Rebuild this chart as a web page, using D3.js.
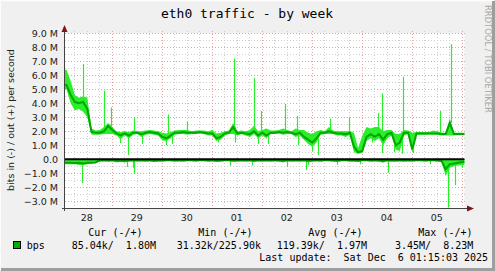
<!DOCTYPE html>
<html>
<head>
<meta charset="utf-8">
<script src="https://cdn.jsdelivr.net/npm/d3@7"></script>
<style>
  html, body { margin: 0; padding: 0; background: #f0f0f0; }
  svg { display: block; }
</style>
</head>
<body>
<div id="chart"></div>
<script>
// munin-style weekly traffic graph, values in Mbit/s
const dayLabels = ["28", "29", "30", "01", "02", "03", "04", "05"];
const yTicks = [-3, -2, -1, 0, 1, 2, 3, 4, 5, 6, 7, 8, 9];

// 2-hour buckets, starting Nov 28 01:15 UTC
const outAvg = [5.3,4.6,4.1,4.0,4.1,3.6,1.95,1.9,1.9,2.0,2.4,2.1,1.85,1.7,1.85,1.7,1.9,1.9,1.8,1.9,
  1.95,1.9,1.85,1.6,1.5,1.7,1.9,1.9,1.95,1.9,1.9,1.9,1.95,1.9,1.85,1.85,1.5,1.6,1.85,1.9,
  2.3,1.85,1.9,1.85,1.8,2.0,1.7,1.9,1.7,1.9,1.9,1.95,1.9,1.95,1.9,1.8,1.9,1.6,1.4,1.2,
  1.5,1.9,1.9,2.0,1.9,1.85,1.85,1.8,1.9,0.9,0.5,0.6,1.6,1.8,1.6,1.8,1.4,1.8,1.9,1.0,
  1.2,1.9,1.9,0.7,1.85,1.85,1.85,1.85,1.85,1.85,1.8,1.8,2.6,1.8,1.8,1.8];
const outHi = [6.4,5.6,4.6,4.4,4.5,4.4,2.2,2.05,2.1,2.3,2.6,2.3,2.0,1.95,2.0,1.95,2.05,2.0,2.0,2.05,
  2.1,2.05,2.0,1.9,1.85,1.95,2.05,2.1,2.1,2.1,2.0,2.05,2.05,2.05,2.0,2.1,1.85,1.9,2.0,2.05,
  2.6,2.0,2.05,2.0,2.1,2.4,2.0,2.1,2.2,2.05,2.05,2.1,2.2,2.1,2.0,2.2,2.1,2.1,1.9,1.8,
  2.0,2.1,2.0,2.3,2.05,2.0,2.0,2.0,2.0,1.9,0.8,1.7,2.3,2.2,2.3,2.3,2.0,2.1,2.1,1.8,
  1.8,2.1,2.05,1.9,1.95,1.95,1.95,1.95,2.05,2.0,1.9,1.9,2.9,1.9,1.9,1.9];
const outLo = [5.0,4.0,3.5,3.6,3.4,3.0,1.75,1.75,1.75,1.8,1.8,1.8,1.7,1.45,1.7,1.5,1.75,1.8,1.6,1.75,
  1.8,1.75,1.7,1.35,1.3,1.5,1.75,1.8,1.8,1.75,1.8,1.8,1.85,1.8,1.7,1.7,1.3,1.4,1.7,1.8,
  1.8,1.7,1.8,1.7,1.6,1.8,1.5,1.7,1.5,1.8,1.8,1.85,1.75,1.8,1.8,1.6,1.7,1.4,1.1,0.9,
  1.2,1.75,1.8,1.8,1.8,1.7,1.7,1.6,1.75,0.5,0.4,0.45,1.3,1.5,1.3,1.5,1.0,1.5,1.7,0.7,
  0.6,1.7,1.8,0.45,1.75,1.75,1.75,1.78,1.78,1.75,1.7,1.7,1.7,1.7,1.72,1.72];
const inAvg = [0.25,0.25,0.27,0.25,0.3,0.25,0.25,0.22,0.08,0.07,0.08,0.06,0.1,0.08,0.12,0.08,0.07,0.08,0.06,0.08,
  0.07,0.1,0.08,0.08,0.07,0.06,0.08,0.07,0.08,0.07,0.07,0.08,0.06,0.07,0.08,0.07,0.1,0.08,0.07,0.07,
  0.09,0.08,0.07,0.08,0.07,0.1,0.07,0.08,0.07,0.08,0.07,0.08,0.1,0.07,0.08,0.07,0.08,0.07,0.1,0.08,
  0.07,0.08,0.07,0.07,0.08,0.1,0.07,0.07,0.08,0.08,0.1,0.07,0.07,0.08,0.07,0.08,0.12,0.07,0.08,0.08,
  0.07,0.08,0.07,0.08,0.07,0.07,0.08,0.07,0.07,0.08,0.1,0.7,0.35,0.3,0.25,0.2];
const inPeak = [0.35,0.35,0.35,0.4,0.4,0.35,0.3,0.3,0.15,0.12,0.15,0.12,0.22,0.18,0.22,0.15,0.12,0.15,0.12,0.15,
  0.12,0.2,0.15,0.15,0.12,0.12,0.15,0.12,0.15,0.12,0.12,0.15,0.12,0.12,0.15,0.12,0.2,0.15,0.12,0.12,
  0.2,0.15,0.12,0.15,0.12,0.2,0.12,0.15,0.12,0.15,0.12,0.15,0.22,0.12,0.15,0.12,0.15,0.12,0.22,0.15,
  0.12,0.15,0.12,0.12,0.15,0.2,0.12,0.12,0.15,0.15,0.2,0.12,0.12,0.15,0.12,0.15,0.25,0.12,0.15,0.15,
  0.12,0.15,0.12,0.15,0.12,0.12,0.15,0.12,0.12,0.15,0.2,1.2,0.6,0.5,0.45,0.4];

// short spikes (hours from start, Mbit/s)
const outSpikeHour = [8.9,19.0,22.2,33.4,49.7,58.8,81.4,91.0,94.2,105.7,111.5,127.5,136.5,150.4,152.3,162.7,180.3,185.7];
const outSpikeVal  = [6.8,4.9,3.7,3.0,3.2,2.7,7.2,5.8,3.45,3.95,3.1,2.9,3.0,3.3,4.7,5.9,3.45,8.23];
const outDipHour = [26.7,30.4,37.2,48.8,51.6,73.7,81.8,92.8,97.5,111.9,119.0,121.9,140.6,147.8,152.6,158.4,162.2,167.5];
const outDipVal  = [1.16,0.3,1.1,1.0,1.1,1.2,1.2,1.1,1.1,1.0,0.6,0.3,0.45,1.2,0.45,0.5,0.4,0.45];
const inSpikeHour = [8.4,29.9,32.9,33.4,79.5,90.1,106.7,115.8,116.9,130.8,141.9,155.3,175.5,183.9,187.5,190.8];
const inSpikeVal  = [1.7,0.55,0.6,1.05,0.45,0.45,0.55,0.77,0.4,0.4,0.35,0.95,0.35,3.45,1.85,0.6];

const W = 495, H = 271;
const start = new Date(Date.UTC(2025, 10, 28, 1, 15));
const end = new Date(Date.UTC(2025, 11, 6, 1, 15));
const HOUR = 3600e3;

const svg = d3.select("#chart").append("svg")
  .attr("width", W).attr("height", H)
  .style("font-family", "'DejaVu Sans', sans-serif");

// frame
svg.append("rect").attr("width", W).attr("height", H).attr("fill", "#f0f0f0");
svg.append("path").attr("d", `M0,${H-1}V0.5H${W-1}`).attr("stroke", "#fcfcfc").attr("stroke-width", 2).attr("fill", "none");
svg.append("path").attr("d", `M1,${H-1.5}H${W-1.5}V1`).attr("stroke", "#9e9e9e").attr("stroke-width", 3).attr("fill", "none");

const x = d3.scaleUtc().domain([start, end]).range([64.4, 464.4]);
const y = d3.scaleLinear().domain([-3.5, 9]).range([208.3, 33.3]);

svg.append("rect").attr("x", 64.4).attr("y", 33.3).attr("width", 400).attr("height", 175).attr("fill", "#fff");

// grid
const g = svg.append("g").attr("shape-rendering", "crispEdges");
const halfTicks = d3.range(-3.5, 9.01, 0.5);
g.selectAll(".hg").data(halfTicks).enter().append("line")
  .attr("x1", 65).attr("x2", 466)
  .attr("y1", d => Math.round(y(d)) + 0.5).attr("y2", d => Math.round(y(d)) + 0.5)
  .attr("stroke", d => Number.isInteger(d) ? "#e8a0a0" : "#cfcfcf")
  .attr("stroke-dasharray", "1,2");
const sixH = d3.utcHour.every(6).range(start, end);
g.selectAll(".vg").data(sixH).enter().append("line")
  .attr("x1", d => Math.round(x(d)) + 0.5).attr("x2", d => Math.round(x(d)) + 0.5)
  .attr("y1", 31).attr("y2", 208)
  .attr("stroke", d => d.getUTCHours() === 0 ? "#e8a0a0" : "#cfcfcf")
  .attr("stroke-dasharray", "1,2");

// data helpers: bucket centres, padded to both edges
const tOf = i => new Date(start.getTime() + (i * 2 + 1) * HOUR);
const pad = r => [{ ...r[0], t: start }, ...r, { ...r[r.length - 1], t: end }];
const rows = arr => pad(arr.map((v, i) => ({ t: tOf(i), v })));
const band = (lo, hi) => pad(lo.map((v, i) => ({ t: tOf(i), lo: v, hi: hi[i] })));
const at = h => new Date(start.getTime() + h * HOUR);
const bucket = h => Math.min(outAvg.length - 1, Math.round((h - 1) / 2));

const light = "#2aee2a", dark = "#00a800";
const plot = svg.append("g");

// out envelope
plot.append("path").datum(band(outLo, outHi))
  .attr("fill", light)
  .attr("d", d3.area().x(d => x(d.t)).y0(d => y(d.lo)).y1(d => y(d.hi)));
// in envelope
plot.append("path").datum(band(inAvg.map(() => 0), inPeak))
  .attr("fill", light)
  .attr("d", d3.area().x(d => x(d.t)).y0(y(0)).y1(d => y(-d.hi)));

// spikes
const spikes = (hours, vals, base, sign) => plot.append("g").selectAll("line")
  .data(hours.map((h, i) => ({ h, v: vals[i] }))).enter().append("line")
  .attr("x1", d => Math.round(x(at(d.h))) + 0.5).attr("x2", d => Math.round(x(at(d.h))) + 0.5)
  .attr("y1", d => y(sign * base[bucket(d.h)])).attr("y2", d => y(sign * d.v))
  .attr("stroke", light).attr("stroke-width", 1.2);
spikes(outSpikeHour, outSpikeVal, outAvg, 1);
spikes(outDipHour, outDipVal, outAvg, 1);
spikes(inSpikeHour, inSpikeVal, inAvg, -1);

// averages
plot.append("path").datum(rows(outAvg))
  .attr("fill", "none").attr("stroke", dark).attr("stroke-width", 2)
  .attr("d", d3.line().x(d => x(d.t)).y(d => y(d.v)));
plot.append("path").datum(rows(inAvg))
  .attr("fill", "none").attr("stroke", dark).attr("stroke-width", 2)
  .attr("d", d3.line().x(d => x(d.t)).y(d => y(-d.v)));

// zero rule
svg.append("line").attr("x1", 64.4).attr("x2", 464.4).attr("y1", y(0)).attr("y2", y(0))
  .attr("stroke", "#000").attr("stroke-width", 2);

// axes
const ax = svg.append("g").attr("shape-rendering", "crispEdges").attr("stroke", "#444");
ax.append("line").attr("x1", 64.5).attr("x2", 64.5).attr("y1", 30).attr("y2", 211);
ax.append("line").attr("x1", 62).attr("x2", 468).attr("y1", 208.5).attr("y2", 208.5);
svg.append("path").attr("d", "M61.5,32L64.5,25L67.5,32Z").attr("fill", "#7f1414");
svg.append("path").attr("d", "M467,205.5L474,208.5L467,211.5Z").attr("fill", "#7f1414");

// y labels
svg.append("g").selectAll("text").data(yTicks).enter().append("text")
  .attr("x", 58).attr("y", d => y(d) + 3.5)
  .attr("text-anchor", "end").attr("font-size", 9.5).attr("fill", "#222")
  .text(d => d === 0 ? "0.0" : d3.format(".1f")(d) + " M");

// x labels at noon of each day
const noons = d3.utcHour.range(start, end).filter(d => d.getUTCHours() === 12);
svg.append("g").selectAll("text").data(noons).enter().append("text")
  .attr("x", d => x(d)).attr("y", 220.5)
  .attr("text-anchor", "middle").attr("font-size", 9.5).attr("fill", "#222")
  .text((d, i) => dayLabels[i]);

// axis title
svg.append("text").attr("transform", "translate(14,120) rotate(-90)")
  .attr("text-anchor", "middle").attr("font-size", 9.5).attr("fill", "#222")
  .text("bits in (-) / out (+) per second");

// watermark
svg.append("text").attr("transform", "translate(485,5) rotate(90)")
  .attr("font-size", 8.4).attr("fill", "#a8a8a8")
  .text("RRDTOOL / TOBI OETIKER");

// title
svg.append("text").attr("x", 247).attr("y", 18)
  .attr("text-anchor", "middle").attr("font-family", "'DejaVu Sans Mono', monospace")
  .attr("font-size", 13).attr("fill", "#000")
  .text("eth0 traffic - by week");

// legend
const mono = svg.append("g").attr("font-family", "'DejaVu Sans Mono', monospace")
  .attr("font-size", 10).attr("fill", "#000");
const legend = [
  [88.3, 236, "Cur (-/+)"], [198.3, 236, "Min (-/+)"], [308.3, 236, "Avg (-/+)"], [418.3, 236, "Max (-/+)"],
  [26.7, 248.5, "bps"], [71.7, 248.5, "85.04k/  1.80M"], [176.7, 248.5, "31.32k/225.90k"],
  [276.7, 248.5, "119.39k/  1.97M"], [395, 248.5, "3.45M/  8.23M"],
  [259.3, 261, "Last update:  Sat Dec  6 01:15:03 2025"]
];
mono.selectAll("text").data(legend).enter().append("text")
  .attr("x", d => d[0]).attr("y", d => d[1]).style("white-space", "pre").text(d => d[2]);
svg.append("rect").attr("x", 13.5).attr("y", 241.5).attr("width", 7).attr("height", 7)
  .attr("fill", "#00b000").attr("stroke", "#000").attr("stroke-width", 1)
  .attr("shape-rendering", "crispEdges");
</script>
</body>
</html>
